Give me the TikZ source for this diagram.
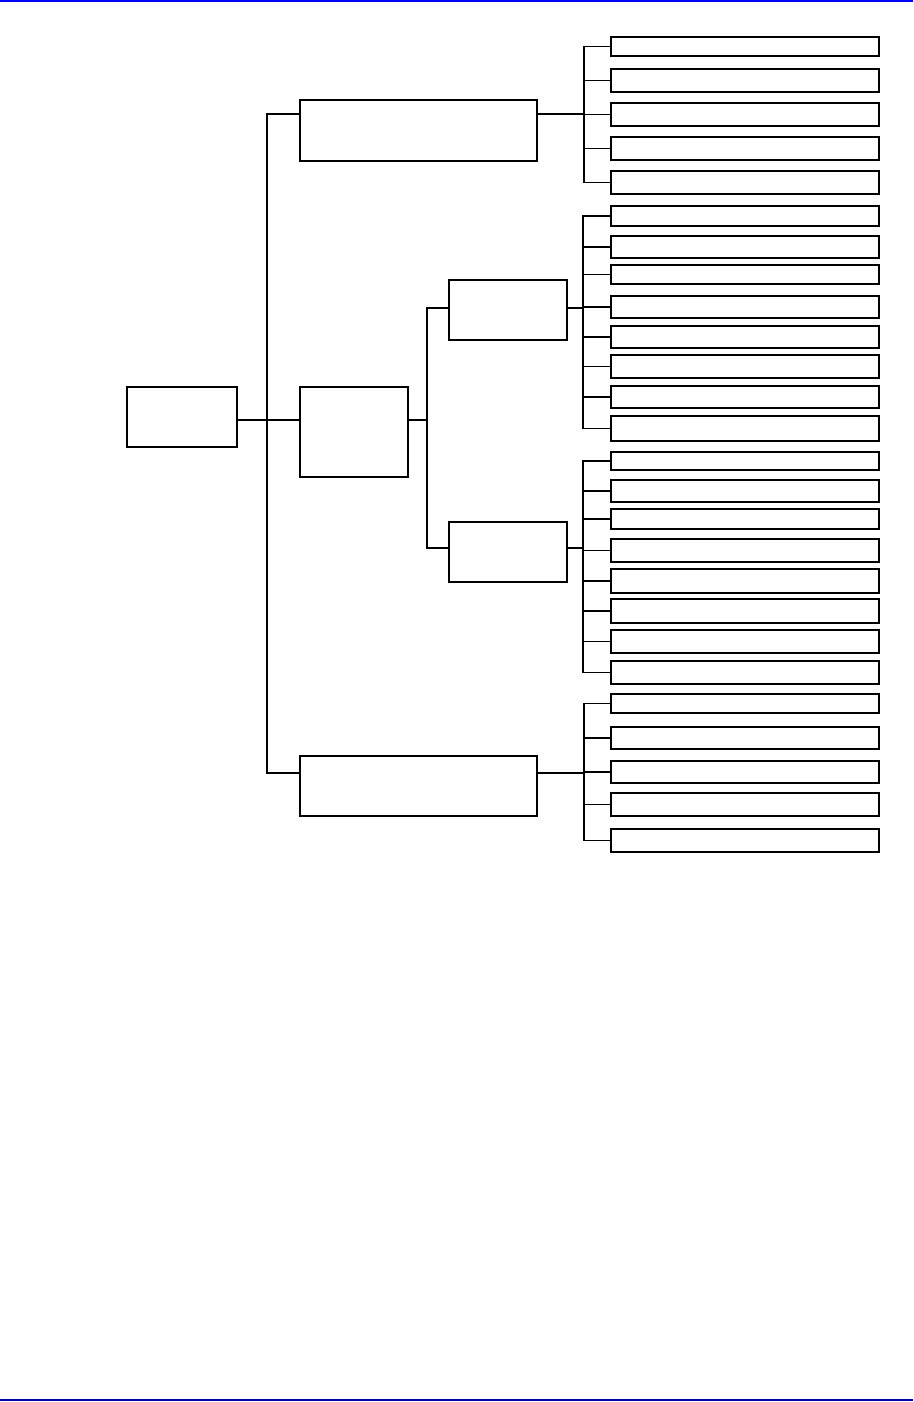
\documentclass[tikz,border=0pt]{standalone}
\usepackage{tikz}
\usetikzlibrary{positioning}

\begin{document}
\begin{tikzpicture}[x=1pt, y=-1pt,
  bx/.style={draw, inner sep=0pt, outer sep=0pt, line width=1.4pt},
  leaf/.style={bx, minimum width=268pt},
  wire/.style={line width=1.2pt},
  rule/.style={line width=1.3pt}]
\useasboundingbox (0,0) rectangle (913,1402);

% page rules
\draw[rule, blue] (0,1) -- (913,1);
\draw[rule, blue!65!black] (0,1400) -- (913,1400);

% root and the three branches
\node[bx, minimum width=110pt, minimum height=60pt] (root) at (182,417) {};
\node[bx, minimum width=237pt, minimum height=61pt] (top) at (418.5,130.5) {};
\node[bx, minimum width=108pt, minimum height=90pt] (mid) at (354,432) {};
\node[bx, minimum width=237pt, minimum height=60pt] (bot) at (418.5,786) {};
\coordinate (trunk) at (267,420);
\draw[wire] (root.east |- trunk) -- (mid.west |- trunk);
\draw[wire] (top.west |- 0,114) -| (trunk) |- (bot.west |- 0,773);

% middle branch splits in two
\node[bx, minimum width=118pt, minimum height=60pt] (subA) at (508,310) {};
\node[bx, minimum width=118pt, minimum height=60pt] (subB) at (508,552) {};
\coordinate (fork) at (427,420);
\draw[wire] (mid.east |- fork) -- (fork);
\draw[wire] (subA.west |- 0,308) -| (fork) |- (subB.west |- 0,548);

% leaves of the top branch
\foreach \i/\t/\b in {1/37/56, 2/69/92, 3/103/126, 4/137/160, 5/171/194}
  \node[leaf, minimum height=\b-\t] (la-\i) at (745,{(\t+\b)/2}) {};
\coordinate (busA) at (584,114);
\draw[wire] (top.east |- busA) -- (busA);
\draw[wire] (la-1.west) -| (busA) |- (la-5.west);
\foreach \i in {2,3,4}
  \draw[wire] (la-\i.west) -- (busA |- la-\i.west);

% leaves of the first sub branch
\foreach \i/\t/\b in {1/206/226, 2/236/258, 3/265/284, 4/296/318,
                      5/326/348, 6/355/378, 7/386/408, 8/416/441}
  \node[leaf, minimum height=\b-\t] (lb-\i) at (745,{(\t+\b)/2}) {};
\coordinate (busB) at (583,308);
\draw[wire] (subA.east |- busB) -- (busB);
\draw[wire] (lb-1.west) -| (busB) |- (lb-8.west);
\foreach \i in {2,...,7}
  \draw[wire] (lb-\i.west) -- (busB |- lb-\i.west);

% leaves of the second sub branch
\foreach \i/\t/\b in {1/452/470, 2/480/502, 3/509/529, 4/539/562,
                      5/569/593, 6/599/623, 7/630/653, 8/661/684}
  \node[leaf, minimum height=\b-\t] (lc-\i) at (745,{(\t+\b)/2}) {};
\coordinate (busC) at (583,548);
\draw[wire] (subB.east |- busC) -- (busC);
\draw[wire] (lc-1.west) -| (busC) |- (lc-8.west);
\foreach \i in {2,...,7}
  \draw[wire] (lc-\i.west) -- (busC |- lc-\i.west);

% leaves of the bottom branch
\foreach \i/\t/\b in {1/694/713, 2/727/749, 3/761/783, 4/793/816, 5/829/852}
  \node[leaf, minimum height=\b-\t] (ld-\i) at (745,{(\t+\b)/2}) {};
\coordinate (busD) at (584,773);
\draw[wire] (bot.east |- busD) -- (busD);
\draw[wire] (ld-1.west) -| (busD) |- (ld-5.west);
\foreach \i in {2,3,4}
  \draw[wire] (ld-\i.west) -- (busD |- ld-\i.west);
\end{tikzpicture}
\end{document}
